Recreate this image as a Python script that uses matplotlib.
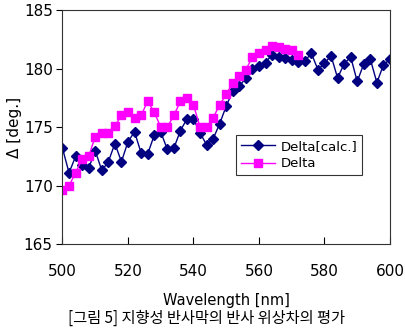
import numpy as np
import matplotlib
matplotlib.use("Agg")
import matplotlib.pyplot as plt

plt.rcParams['font.family'] = ['DejaVu Sans', 'Noto Sans CJK KR']

# wavelength grid (nm)
wl_calc = np.arange(500, 601, 2)
wl_meas = np.arange(500, 573, 2)

delta_calc = [173.2, 171.1, 172.5, 171.8, 171.5, 173.0, 171.3, 172.05, 173.6, 172.05,
              173.76, 174.6, 172.8, 172.7, 174.3, 174.6, 173.1, 173.2, 174.7, 175.7,
              175.7, 174.5, 173.5, 174.0, 175.3,
              176.8, 178.1, 178.5, 179.2, 180.0, 180.2, 180.5, 181.2, 181.0, 180.9,
              180.7, 180.6, 180.65, 181.3, 179.9, 180.45, 181.1, 179.2, 180.4, 181.0,
              178.9, 180.4, 180.8, 178.8, 180.3, 180.8]

delta_meas = [169.6, 170.0, 171.1, 172.3, 172.5, 174.2, 174.5, 174.5, 175.1, 176.0,
              176.3, 175.8, 176.0, 177.2, 176.3, 175.0, 175.0, 176.0, 177.2, 177.5,
              176.9, 175.0, 175.0, 175.8, 176.9, 177.8, 178.8, 179.4, 179.9, 181.0,
              181.3, 181.6, 181.9, 181.8, 181.7, 181.6, 181.2]

x_ticks = [500, 520, 540, 560, 580, 600]
y_ticks = [165, 170, 175, 180, 185]

fig = plt.figure(figsize=(4.05, 3.28), dpi=100)
ax = fig.add_axes([0.1543, 0.2552, 0.8086, 0.7143])

ax.plot(wl_calc, delta_calc, color="#000080", marker="D", markersize=5,
        linewidth=1.0, label="Delta[calc.]")
ax.plot(wl_meas, delta_meas, color="#FF00FF", marker="s", markersize=6,
        linewidth=1.0, label="Delta")

ax.set_xlim(500, 600)
ax.set_ylim(165, 185)
ax.set_xticks(x_ticks)
ax.set_yticks(y_ticks)
ax.tick_params(axis="x", direction="in", length=5, labelsize=11, pad=14)
ax.tick_params(axis="y", direction="out", length=4, labelsize=11, pad=3)
for s in ax.spines.values():
    s.set_linewidth(0.8)
    s.set_color("#333333")

ax.set_xlabel("Wavelength [nm]", fontsize=10.5, labelpad=10)
ax.set_ylabel("Δ [deg.]", fontsize=11, labelpad=1)

leg = ax.legend(loc="upper left", bbox_to_anchor=(0.53, 0.4665), fontsize=9.5,
                frameon=True, fancybox=False, edgecolor="black",
                borderpad=0.35, handlelength=2.6, handletextpad=0.4,
                labelspacing=0.35, borderaxespad=0)
leg.get_frame().set_linewidth(0.8)

fig.text(0.51, 0.03, "[그림 5] 지향성 반사막의 반사 위상차의 평가",
         ha="center", va="center", fontsize=11,
         family=["Noto Sans CJK KR", "DejaVu Sans"])

fig.savefig("out.png", dpi=100)
